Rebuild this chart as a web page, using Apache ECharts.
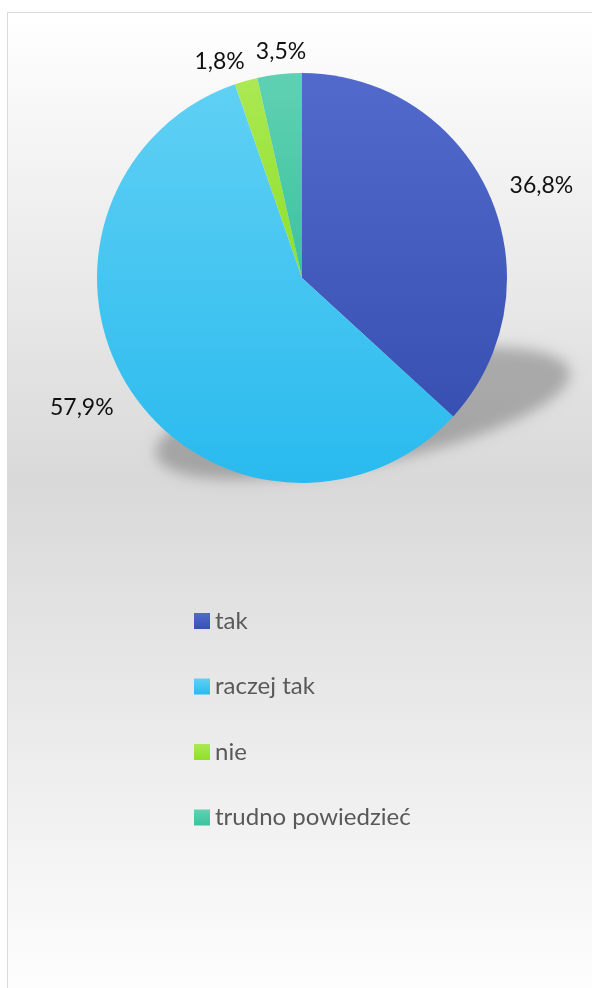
<!DOCTYPE html>
<html>
<head>
<meta charset="utf-8">
<script src="https://cdn.jsdelivr.net/npm/echarts@6/dist/echarts.min.js"></script>
<style>
html,body{margin:0;padding:0;background:#fff;}
#chart{width:592px;height:988px;}
</style>
</head>
<body>
<div id="chart"></div>
<script>
var categories = ['tak', 'raczej tak', 'nie', 'trudno powiedzieć'];
var values = [36.8, 57.9, 1.8, 3.5];
var colorTop = ['#516acb', '#60d0f4', '#abe953', '#60d1b3'];
var colorBottom = ['#3850b2', '#29baee', '#8fdf2a', '#3bc39e'];
var labelShift = [[4, -5], [-2, 10], [7, -8], [33, -11]];

var chart = echarts.init(document.getElementById('chart'), null, {renderer: 'canvas'});

var data = categories.map(function (c, i) {
  return {
    name: c,
    value: values[i],
    itemStyle: {
      color: new echarts.graphic.LinearGradient(0, 0, 0, 1, [
        {offset: 0, color: colorTop[i]},
        {offset: 1, color: colorBottom[i]}
      ])
    }
  };
});

var option = {
  backgroundColor: '#ffffff',
  animation: false,
  graphic: [
    {
      type: 'rect', z: -10, silent: true,
      shape: {x: 7.5, y: 12.5, width: 600, height: 1000},
      style: {
        fill: new echarts.graphic.LinearGradient(0, 0, 0, 1, [
          {offset: 0, color: '#ffffff'},
          {offset: 0.47, color: '#d9d9d9'},
          {offset: 1, color: '#ffffff'}
        ]),
        stroke: '#d9d9d9', lineWidth: 1
      }
    },
    {
      type: 'ellipse', z: -5, silent: true,
      x: 363 - 3000, y: 413, rotation: 0.2,
      shape: {cx: 0, cy: 0, rx: 211, ry: 52},
      style: {
        fill: '#000',
        shadowColor: 'rgba(0,0,0,0.25)',
        shadowBlur: 14,
        shadowOffsetX: 3000,
        shadowOffsetY: 0
      }
    }
  ],
  legend: {
    orient: 'vertical',
    left: 194,
    top: 609,
    padding: 0,
    itemWidth: 16,
    itemHeight: 16,
    itemGap: 41.5,
    icon: 'rect',
    selectedMode: false,
    textStyle: {
      fontFamily: 'Lato',
      fontSize: 24,
      lineHeight: 24,
      color: '#595959'
    },
    data: categories
  },
  series: [{
    type: 'pie',
    center: [302, 278],
    radius: 205,
    startAngle: 90,
    clockwise: true,
    avoidLabelOverlap: false,
    label: {
      show: true,
      position: 'outside',
      fontFamily: 'Lato',
      fontSize: 23,
      color: '#111',
      formatter: function (p) { return p.value.toFixed(1).replace('.', ',') + '%'; }
    },
    labelLine: {show: false, length: 12, length2: 0},
    labelLayout: function (p) {
      var s = labelShift[p.dataIndex];
      return {dx: s[0], dy: s[1]};
    },
    emphasis: {disabled: true},
    data: data
  }]
};
chart.setOption(option);
</script>
</body>
</html>
